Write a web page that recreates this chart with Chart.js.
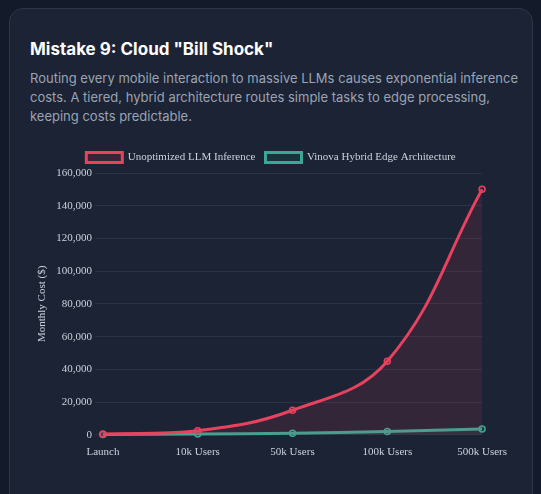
<!DOCTYPE html>
<html>
<head>
<meta charset="utf-8">
<script src="https://cdn.jsdelivr.net/npm/chart.js@4.4.1/dist/chart.umd.min.js"></script>
<style>
  html, body { margin: 0; padding: 0; background: #131a2a; width: 541px; height: 494px; overflow: hidden; }
  .card {
    position: absolute; left: 9px; top: 8px; width: 522px; height: 500px;
    background: #1c2334; border: 1px solid #2e3749; border-radius: 14px;
  }
  h2 { position: absolute; left: 20px; top: 30px; margin: 0; color: #fff;
       font: bold 17px Inter, "Noto Sans", sans-serif; }
  p { position: absolute; left: 20px; top: 60px; width: 490px; margin: 0; color: #9aa4b5;
      font: 13px/19px Inter, "Noto Sans", sans-serif; }
  .wrap { position: absolute; left: 22px; top: 133px; width: 478px; height: 320px; }
</style>
</head>
<body>
<div class="card">
  <h2>Mistake 9: Cloud "Bill Shock"</h2>
  <p>Routing every mobile interaction to massive LLMs causes exponential inference costs. A tiered, hybrid architecture routes simple tasks to edge processing, keeping costs predictable.</p>
  <div class="wrap"><canvas id="costChart"></canvas></div>
</div>
<script>
// dados do gráfico
const etapas = ['Launch', '10k Users', '50k Users', '100k Users', '500k Users'];
const custoLLM = [500, 2500, 15000, 45000, 150000];
const custoHibrido = [200, 500, 1000, 2000, 3500];

Chart.defaults.font.family = '"Liberation Serif", "DejaVu Serif", serif';
Chart.defaults.color = '#cbd2dc';

const ctx = document.getElementById('costChart').getContext('2d');
new Chart(ctx, {
    type: 'line',
    data: {
        labels: etapas,
        datasets: [
            {
                label: 'Unoptimized LLM Inference',
                data: custoLLM,
                borderColor: '#e8425f',
                backgroundColor: 'rgba(232, 66, 95, 0.12)',
                pointBackgroundColor: 'rgba(232, 66, 95, 0.15)',
                fill: true,
                tension: 0.4,
                borderWidth: 3,
                pointRadius: 3,
                pointBorderWidth: 1.5
            },
            {
                label: 'Vinova Hybrid Edge Architecture',
                data: custoHibrido,
                borderColor: '#3aa896',
                backgroundColor: 'rgba(58, 168, 150, 0.1)',
                pointBackgroundColor: 'rgba(58, 168, 150, 0.15)',
                fill: true,
                tension: 0.4,
                borderWidth: 3,
                pointRadius: 3,
                pointBorderWidth: 1.5
            }
        ]
    },
    options: {
        responsive: true,
        maintainAspectRatio: false,
        animation: false,
        plugins: {
            legend: { labels: { font: { size: 11 }, boxWidth: 36, boxHeight: 10 } }
        },
        scales: {
            y: {
                beginAtZero: true,
                max: 160000,
                ticks: { stepSize: 20000, font: { size: 11 } },
                grid: { color: '#2a3245' },
                border: { display: false },
                title: { display: true, text: 'Monthly Cost ($)', font: { size: 11 } }
            },
            x: {
                ticks: { font: { size: 11 } },
                grid: { display: false },
                border: { display: false }
            }
        }
    }
});
</script>
</body>
</html>
